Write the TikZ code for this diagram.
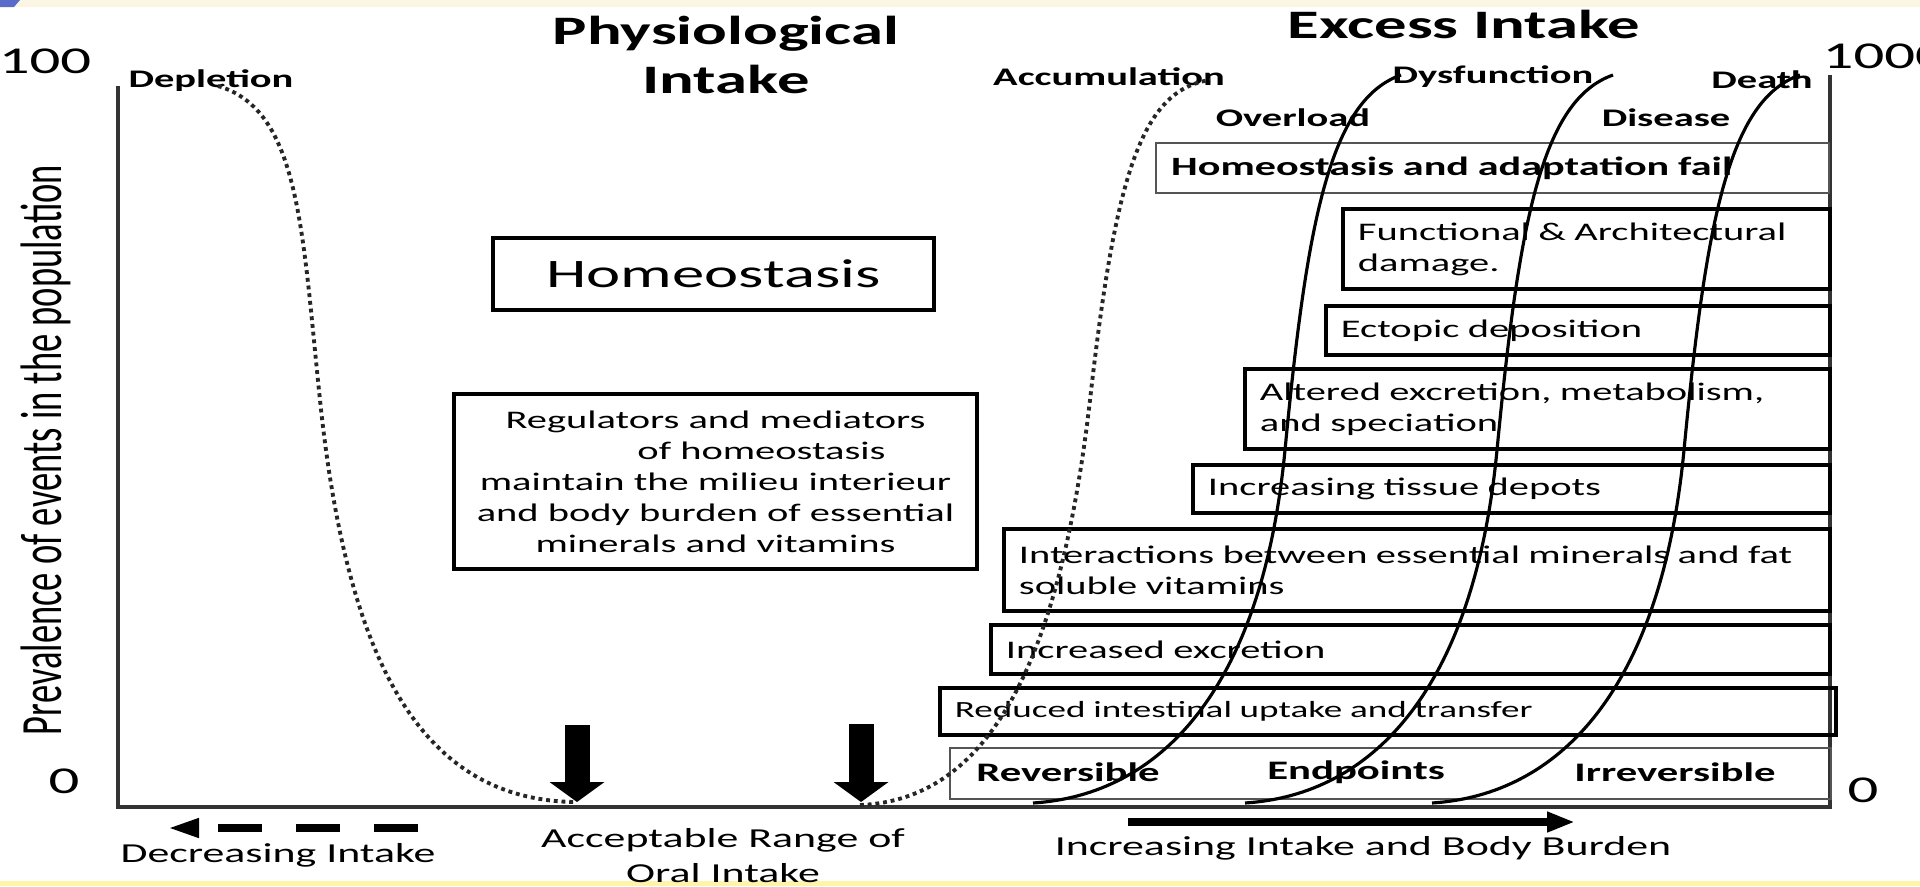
\documentclass[tikz,border=0pt]{standalone}
\usepackage{fontspec}
\setmainfont{Carlito}[FakeStretch=1.6]
\newfontfamily\plainsans{Carlito}
\usepackage{graphicx}
\usepackage{xcolor}
\definecolor{slidecream}{HTML}{FBF5E4}
\definecolor{slideyellow}{HTML}{FFF5A8}
\definecolor{slideblue}{HTML}{5B6BC9}
\definecolor{thinedge}{HTML}{555555}
\usetikzlibrary{arrows.meta}
\newcommand{\setfs}[2]{\fontsize{#1}{#2}\selectfont}

\begin{document}
\begin{tikzpicture}[>=Latex]
\tikzset{
 ev/.style={draw,line width=1.1pt,anchor=north west,align=left,inner xsep=1.5mm,inner ysep=0pt,font=\setfs{7.2}{8.8}},
 evthin/.style={ev,draw=thinedge,line width=0.7pt},
 lbl/.style={font=\setfs{7.2}{8.8}\bfseries,inner sep=0pt},
 endlbl/.style={font=\setfs{7.6}{9}\bfseries,inner sep=0pt},
 num/.style={font=\setfs{10.8}{12},inner sep=0pt},
 axtxt/.style={font=\setfs{7.8}{10},align=center,inner sep=0pt},
 big/.style={line width=2.5mm,-{Triangle[width=5.5mm,length=2mm,line width=0pt]}},
 crv/.style={line width=0.9pt},
 dcrv/.style={line width=1.1pt,dash pattern=on 1.1pt off 1.1pt,draw=black!85},
 ax/.style={line width=0.9pt,draw=black!80}
}
\useasboundingbox (0,0) rectangle (19.2,-8.86);
\fill[white] (0,0) rectangle (19.2,-8.86);
\fill[slidecream] (0,0) rectangle (19.2,-0.07);
\fill[slideblue] (0,0) -- (0.2,0) -- (0.14,-0.07) -- (0,-0.07) -- cycle;
\fill[slideyellow] (0,-8.81) rectangle (19.2,-8.86);

\coordinate (o) at (1.18,-8.07);
\coordinate (ytop) at (1.18,-0.86);
\coordinate (xend) at (18.30,-8.07);
\coordinate (rtop) at (18.30,-0.75);
\draw[ax] (ytop) -- (o) -- (xend) -- (rtop);

\node[num] (top100) at (0.45,-0.61) {100};
\node[num,anchor=west] (top1000) at (18.22,-0.56) {1000};
\node[num] (zeroL) at (0.64,-7.81) {0};
\node[num] (zeroR) at (18.63,-7.90) {0};
\node[rotate=90,inner sep=0pt,font=\plainsans\setfs{10.4}{12}] (ylab) at (0.46,-4.50)
 {\scalebox{1}[1.6]{Prevalence of events in the population}};

\node[font=\setfs{11.5}{14.2}\bfseries,align=center,inner sep=0pt] (phys) at (7.26,-0.55) {Physiological\\Intake};
\node[font=\setfs{11.5}{14.2}\bfseries,inner sep=0pt] (excess) at (14.64,-0.24) {Excess Intake};

\node[lbl] (depl) at (2.11,-0.81) {Depletion};
\node[lbl] (accu) at (11.09,-0.77) {Accumulation};
\node[lbl] (dysf) at (14.93,-0.77) {Dysfunction};
\node[lbl] (death) at (17.62,-0.80) {Death};
\node[lbl] (over) at (12.93,-1.18) {Overload};
\node[lbl] (dise) at (16.66,-1.18) {Disease};

\node[draw,line width=1.3pt,minimum width=4.41cm,minimum height=0.72cm,font=\setfs{11.5}{14}] (homeo) at (7.135,-2.74) {Homeostasis};
\node[draw,line width=1.3pt,minimum width=5.23cm,minimum height=1.75cm,align=center,font=\setfs{7.2}{8.8}] (regul) at (7.155,-4.815)
 {Regulators and mediators\\\hspace*{0.92cm}of homeostasis\\maintain the milieu interieur\\and body burden of essential\\minerals and vitamins};

\node[evthin,text width=6.43cm,minimum height=0.50cm,font=\setfs{7.5}{9}\bfseries] (fail) at (11.55,-1.42) {Homeostasis and adaptation fail};
\node[ev,text width=4.57cm,minimum height=0.80cm] (damage) at (13.41,-2.07) {Functional \& Architectural\\damage.};
\node[ev,text width=4.74cm,minimum height=0.49cm] (ectopic) at (13.24,-3.04) {Ectopic deposition};
\node[ev,text width=5.55cm,minimum height=0.80cm] (altered) at (12.43,-3.67) {Altered excretion, metabolism,\\and speciation};
\node[ev,text width=6.07cm,minimum height=0.48cm] (depots) at (11.91,-4.63) {Increasing tissue depots};
\node[ev,text width=7.96cm,minimum height=0.82cm] (interact) at (10.02,-5.27) {Interactions between essential minerals and fat\\soluble vitamins};
\node[ev,text width=8.09cm,minimum height=0.49cm] (excret) at (9.89,-6.23) {Increased excretion};
\node[ev,text width=8.66cm,minimum height=0.47cm,font=\setfs{6.6}{8}] (uptake) at (9.38,-6.86) {Reduced intestinal uptake and transfer};
\node[evthin,minimum width=8.81cm,minimum height=0.51cm] (endp) at (9.49,-7.47) {};
\node[endlbl] (rev) at (10.68,-7.72) {Reversible};
\node[endlbl] (endpts) at (13.56,-7.72) {Endpoints};
\node[endlbl] (irrev) at (16.75,-7.72) {Irreversible};

\draw[dcrv] (2.18,-0.86) .. controls (3.0,-1.1) and (3.02,-2.3) .. (3.2,-4.0)
 .. controls (3.47,-6.6) and (4.2,-8.0) .. (5.75,-8.02);
\draw[dcrv] (8.6,-8.05) .. controls (9.9,-8.0) and (10.6,-6.6) .. (10.9,-4.0)
 .. controls (11.15,-1.8) and (11.4,-0.9) .. (12.1,-0.8);
\foreach \dx in {0,2.12,3.99}
 \draw[crv,xshift=\dx cm] (10.33,-8.03) .. controls (11.6,-7.95) and (12.62,-6.9) .. (12.85,-4.5)
  .. controls (13.07,-2.2) and (13.3,-1.0) .. (14.01,-0.75);

\coordinate (a1s) at (5.77,-7.25);
\coordinate (a1e) at (5.77,-8.02);
\coordinate (a2s) at (8.61,-7.24);
\coordinate (a2e) at (8.61,-8.02);
\draw[big] (a1s) -- (a1e);
\draw[big] (a2s) -- (a2e);

\coordinate (ds) at (4.18,-8.28);
\coordinate (de) at (1.68,-8.28);
\draw[line width=2pt,dash pattern=on 4.4mm off 3.4mm,-{Triangle[length=3.1mm,width=1.8mm]}] (ds) -- (de);
\coordinate (is) at (11.28,-8.22);
\coordinate (ie) at (15.75,-8.22);
\draw[line width=2pt,-{Triangle[length=2.8mm,width=1.9mm]}] (is) -- (ie);

\node[axtxt] (decr) at (2.78,-8.55) {Decreasing Intake};
\node[axtxt] (accept) at (7.23,-8.555) {Acceptable Range of\\Oral Intake};
\node[axtxt] (incr) at (13.63,-8.48) {Increasing Intake and Body Burden};
\end{tikzpicture}
\end{document}
